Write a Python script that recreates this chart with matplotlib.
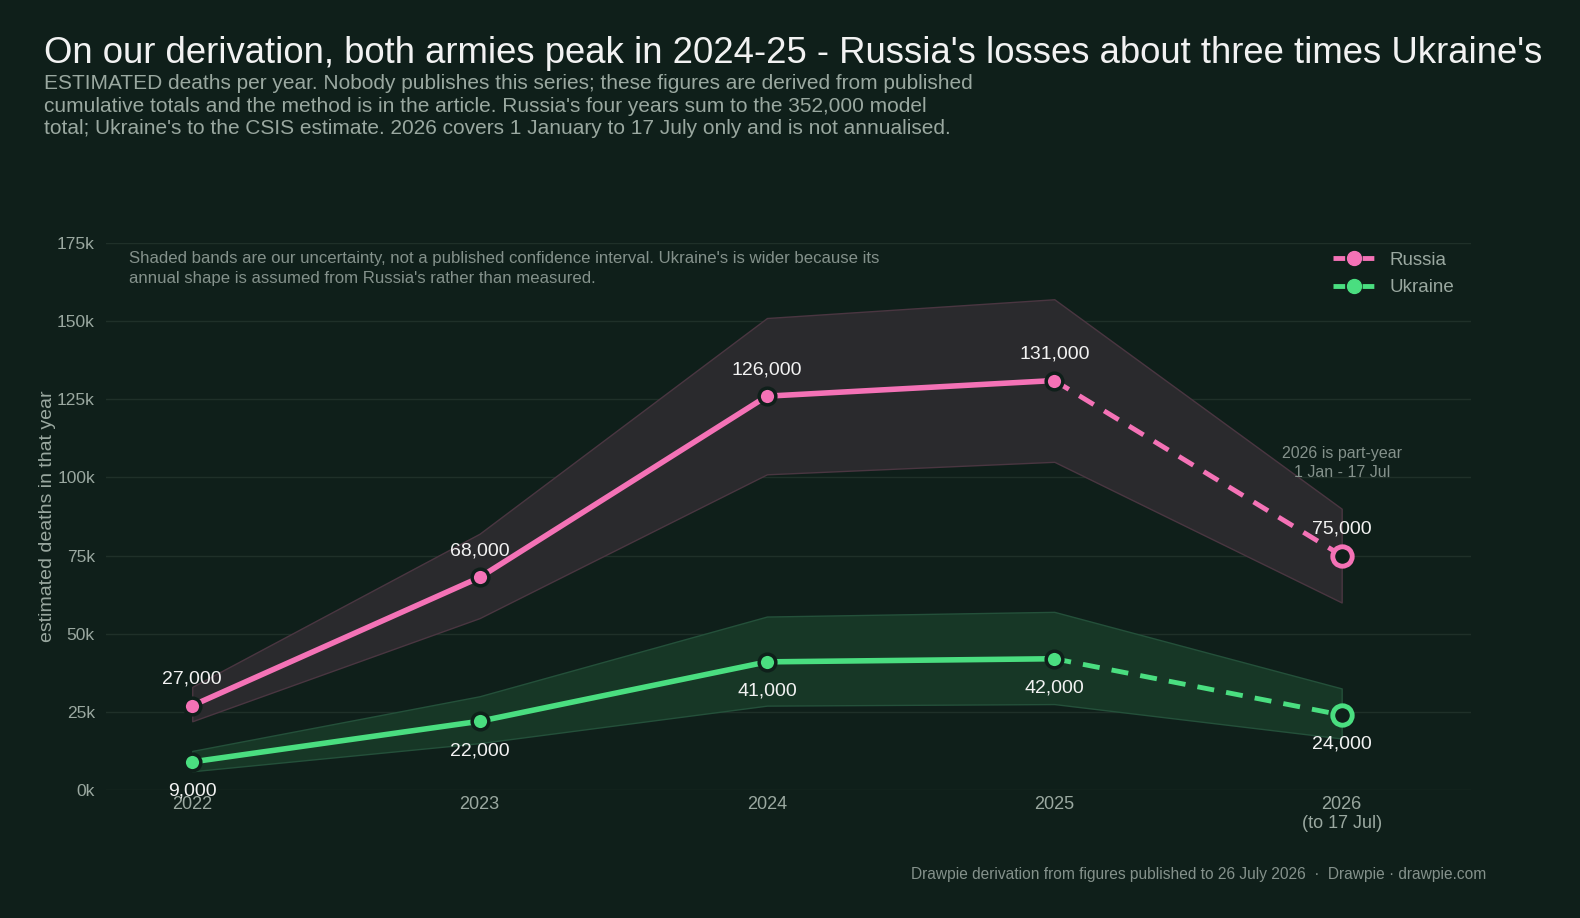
import matplotlib.pyplot as plt
from matplotlib.lines import Line2D

# data
years = [2022, 2023, 2024, 2025, 2026]
year_labels = ['2022', '2023', '2024', '2025', '2026\n(to 17 Jul)']
russia = [27000, 68000, 126000, 131000, 75000]
russia_lo = [22000, 55000, 101000, 105000, 60000]
russia_hi = [33000, 82000, 151000, 157000, 90000]
ukraine = [9000, 22000, 41000, 42000, 24000]
ukraine_lo = [6000, 15000, 27000, 27500, 16500]
ukraine_hi = [12500, 30000, 55500, 57000, 32500]
yticks = [0, 25000, 50000, 75000, 100000, 125000, 150000, 175000]
ytick_labels = ['0k', '25k', '50k', '75k', '100k', '125k', '150k', '175k']

BG = '#0f1f1a'
PINK = '#f472b6'
GREEN = '#4ade80'
GREY = '#9aa8a0'
DIM = '#84918b'
WHITE = '#f2f2f2'

plt.rcParams['font.family'] = ['Liberation Sans', 'DejaVu Sans']

fig = plt.figure(figsize=(15.8, 9.18), dpi=100, facecolor=BG)
ax = fig.add_axes([0.0671, 0.1394, 0.8639, 0.5959])
ax.set_facecolor(BG)

# uncertainty bands
ax.fill_between(years, russia_lo, russia_hi, facecolor='#2a2a2d', edgecolor='#4a3641',
                linewidth=1, zorder=1)
ax.fill_between(years, ukraine_lo, ukraine_hi, facecolor='#173726', edgecolor='#24503a',
                linewidth=1, zorder=1)

for vals, col in [(russia, PINK), (ukraine, GREEN)]:
    ax.plot(years[:4], vals[:4], color=col, lw=4, solid_capstyle='round', zorder=3)
    ax.plot(years[3:], vals[3:], color=col, lw=3.5, ls=(0, (3.5, 2.5)), zorder=3)
    ax.plot(years[:4], vals[:4], 'o', ms=12, mfc=col, mec=BG, mew=2.5, zorder=4)
    ax.plot(years[4:], vals[4:], 'o', ms=14, mfc=BG, mec=col, mew=3.5, zorder=4)

for x, v in zip(years, russia):
    ax.annotate(f'{v:,}', (x, v), xytext=(0, 13), textcoords='offset points',
                ha='center', va='bottom', color=WHITE, fontsize=14, zorder=5)
for x, v in zip(years, ukraine):
    ax.annotate(f'{v:,}', (x, v), xytext=(0, -15), textcoords='offset points',
                ha='center', va='top', color=WHITE, fontsize=14, zorder=5)

ax.set_xlim(2021.70, 2026.45)
ax.set_ylim(0, 175000)
ax.set_yticks(yticks)
ax.set_yticklabels(ytick_labels)
ax.set_xticks(years)
ax.set_xticklabels(year_labels)
ax.grid(axis='y', color='#1f3029', lw=1)
ax.set_axisbelow(True)
for s in ax.spines.values():
    s.set_visible(False)
ax.tick_params(axis='both', length=0, colors=GREY, labelsize=13)
ax.tick_params(axis='y', pad=8, labelsize=12.5)
ax.tick_params(axis='x', pad=4)
ax.set_ylabel('estimated deaths in that year', color=GREY, fontsize=14, labelpad=1)

ax.text(2026, 104600, '2026 is part-year\n1 Jan - 17 Jul', ha='center', va='center',
        color=DIM, fontsize=11.5, linespacing=1.3)

# legend: dash - dot - dash
handles = [Line2D([0], [0], color=PINK, lw=3.5, ls=(0, (2.4, 3.6)), marker='o', ms=10,
                  mfc=PINK, mec=PINK),
           Line2D([0], [0], color=GREEN, lw=3.5, ls=(0, (2.4, 3.6)), marker='o', ms=10,
                  mfc=GREEN, mec=GREEN)]
leg = ax.legend(handles, ['Russia', 'Ukraine'], loc='upper right', bbox_to_anchor=(1.0, 1.015),
                frameon=False, fontsize=13.5, handlelength=2.2, labelspacing=0.55,
                handletextpad=0.8)
for t in leg.get_texts():
    t.set_color(GREY)

fig.text(0.028, 0.931, "On our derivation, both armies peak in 2024-25 - Russia's losses about three times Ukraine's",
         color=WHITE, fontsize=26.3, va='baseline')
fig.text(0.028, 0.919,
         "ESTIMATED deaths per year. Nobody publishes this series; these figures are derived from published\n"
         "cumulative totals and the method is in the article. Russia's four years sum to the 352,000 model\n"
         "total; Ukraine's to the CSIS estimate. 2026 covers 1 January to 17 July only and is not annualised.",
         color=GREY, fontsize=15, va='top', linespacing=1.22)
fig.text(0.0816, 0.727,
         "Shaded bands are our uncertainty, not a published confidence interval. Ukraine's is wider because its\n"
         "annual shape is assumed from Russia's rather than measured.",
         color=DIM, fontsize=12.1, va='top', linespacing=1.45)
fig.text(0.9405, 0.043, 'Drawpie derivation from figures published to 26 July 2026  \u00b7  Drawpie \u00b7 drawpie.com',
         color=DIM, fontsize=11.2, ha='right', va='baseline')

fig.savefig('out.png', dpi=100, facecolor=BG)
